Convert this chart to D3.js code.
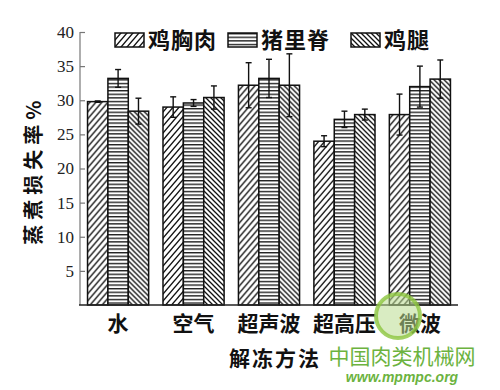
<!DOCTYPE html>
<html lang="zh">
<head>
  <meta charset="utf-8">
  <title>蒸煮损失率</title>
  <style>
    body { margin: 0; background: #fff; }
    svg { display: block; }
    .cjk { font-family: "Noto Sans CJK SC", sans-serif; font-weight: 700; fill: #111; }
  </style>
</head>
<body>
  <div id="chart"></div>

  <script src="https://cdnjs.cloudflare.com/ajax/libs/d3/7.8.5/d3.min.js"></script>
  <script>
    // thawing methods
    var methods = ["水", "空气", "超声波", "超高压", "微波"];
    var seriesNames = ["鸡胸肉", "猪里脊", "鸡腿"];

    // cooking loss (%) per series, one value per method
    var chickenBreast = [29.8, 29.0, 32.2, 24.0, 27.9];
    var porkLoin = [33.2, 29.6, 33.2, 27.2, 32.0];
    var chickenLeg = [28.4, 30.4, 32.2, 27.9, 33.1];

    // error bars (±)
    var chickenBreastErr = [0.1, 1.5, 3.3, 0.8, 3.0];
    var porkLoinErr = [1.3, 0.5, 2.8, 1.2, 3.0];
    var chickenLegErr = [1.9, 1.7, 4.6, 0.8, 2.8];

    var yTicks = [5, 10, 15, 20, 25, 30, 35, 40];

    var values = [chickenBreast, porkLoin, chickenLeg];
    var errors = [chickenBreastErr, porkLoinErr, chickenLegErr];

    var width = 500, height = 390;

    var svg = d3.select("#chart").append("svg")
      .attr("width", width)
      .attr("height", height);

    // hatch patterns
    var defs = svg.append("defs");

    var p1 = defs.append("pattern")
      .attr("id", "hatch0")
      .attr("patternUnits", "userSpaceOnUse")
      .attr("width", 6).attr("height", 7);
    p1.append("rect").attr("width", 6).attr("height", 7).attr("fill", "#fff");
    p1.append("path")
      .attr("d", "M0,7 L6,0 M-2,2.33 L2,-2.33 M4,9.33 L8,4.67")
      .attr("stroke", "#111").attr("stroke-width", 1.4);

    var p2 = defs.append("pattern")
      .attr("id", "hatch1")
      .attr("patternUnits", "userSpaceOnUse")
      .attr("width", 6).attr("height", 3.6);
    p2.append("rect").attr("width", 6).attr("height", 3.6).attr("fill", "#fff");
    p2.append("line")
      .attr("x1", 0).attr("x2", 6).attr("y1", 0.7).attr("y2", 0.7)
      .attr("stroke", "#111").attr("stroke-width", 1.3);

    var p3 = defs.append("pattern")
      .attr("id", "hatch2")
      .attr("patternUnits", "userSpaceOnUse")
      .attr("width", 5).attr("height", 5);
    p3.append("rect").attr("width", 5).attr("height", 5).attr("fill", "#fff");
    p3.append("path")
      .attr("d", "M0,0 L5,5 M-2,3 L2,7 M3,-2 L7,2")
      .attr("stroke", "#111").attr("stroke-width", 1.3);

    // scales
    var x0 = d3.scaleBand()
      .domain(methods)
      .range([80, 458])
      .paddingInner(0.19)
      .paddingOuter(0.1);

    var x1 = d3.scaleBand()
      .domain(d3.range(seriesNames.length))
      .range([0, x0.bandwidth()]);

    var y = d3.scaleLinear()
      .domain([0, 40])
      .range([305, 32]);

    // bars
    var groups = svg.append("g").selectAll("g")
      .data(methods)
      .join("g")
      .attr("transform", function (d) { return "translate(" + x0(d) + ",0)"; });

    function rowsFor(d, i) {
      return values.map(function (s, k) { return { k: k, v: s[i], e: errors[k][i] }; });
    }

    groups.selectAll("rect")
      .data(rowsFor)
      .join("rect")
      .attr("x", function (d) { return x1(d.k); })
      .attr("y", function (d) { return y(d.v); })
      .attr("width", x1.bandwidth())
      .attr("height", function (d) { return y(0) - y(d.v); })
      .attr("fill", function (d) { return "url(#hatch" + d.k + ")"; })
      .attr("stroke", "#111")
      .attr("stroke-width", 1.5);

    // error bars
    var eb = groups.selectAll("g.err")
      .data(rowsFor)
      .join("g")
      .attr("class", "err")
      .attr("stroke", "#111")
      .attr("stroke-width", 1.4);

    function cx(d) { return x1(d.k) + x1.bandwidth() / 2; }

    eb.append("line")
      .attr("x1", cx).attr("x2", cx)
      .attr("y1", function (d) { return y(d.v + d.e); })
      .attr("y2", function (d) { return y(d.v - d.e); });
    eb.append("line")
      .attr("x1", function (d) { return cx(d) - 3; })
      .attr("x2", function (d) { return cx(d) + 3; })
      .attr("y1", function (d) { return y(d.v + d.e); })
      .attr("y2", function (d) { return y(d.v + d.e); });
    eb.append("line")
      .attr("x1", function (d) { return cx(d) - 3; })
      .attr("x2", function (d) { return cx(d) + 3; })
      .attr("y1", function (d) { return y(d.v - d.e); })
      .attr("y2", function (d) { return y(d.v - d.e); });

    // y axis, ticks pointing inward
    var yAxis = svg.append("g")
      .attr("transform", "translate(80,0)")
      .call(d3.axisRight(y).tickValues(yTicks).tickSize(5).tickFormat(""));
    yAxis.select(".domain").attr("d", "M0," + y(40) + "V" + y(0)).attr("stroke", "#777").attr("stroke-width", 1.2);
    yAxis.selectAll(".tick line").attr("stroke", "#777").attr("stroke-width", 1.2);

    svg.append("g").selectAll("text")
      .data(yTicks)
      .join("text")
      .attr("x", 74)
      .attr("y", function (d) { return y(d); })
      .attr("dy", "0.35em")
      .attr("text-anchor", "end")
      .style("font-family", "'Liberation Serif', 'DejaVu Serif', serif")
      .style("font-size", "17px")
      .attr("fill", "#222")
      .text(function (d) { return d; });

    // x axis
    svg.append("line")
      .attr("x1", 79).attr("x2", 458)
      .attr("y1", y(0)).attr("y2", y(0))
      .attr("stroke", "#222").attr("stroke-width", 1.6);

    svg.append("g").selectAll("text")
      .data(methods)
      .join("text")
      .attr("class", "cjk")
      .attr("x", function (d) { return x0(d) + x0.bandwidth() / 2; })
      .attr("y", 331)
      .attr("text-anchor", "middle")
      .style("font-size", "21px")
      .text(function (d) { return d; });

    // axis titles
    svg.append("text")
      .attr("class", "cjk")
      .attr("x", 275).attr("y", 366)
      .attr("text-anchor", "middle")
      .style("font-size", "21px")
      .style("letter-spacing", "2px")
      .text("解冻方法");

    svg.append("text")
      .attr("class", "cjk")
      .attr("transform", "translate(34,170) rotate(-90)")
      .attr("text-anchor", "middle")
      .attr("dy", "0.35em")
      .style("font-size", "20px")
      .style("letter-spacing", "5px")
      .text("蒸煮损失率%");

    // legend
    var legendX = [115, 228, 351];
    var legend = svg.append("g").selectAll("g")
      .data(seriesNames)
      .join("g")
      .attr("transform", function (d, i) { return "translate(" + legendX[i] + ",33)"; });
    legend.append("rect")
      .attr("width", 29).attr("height", 14)
      .attr("fill", function (d, i) { return "url(#hatch" + i + ")"; })
      .attr("stroke", "#111").attr("stroke-width", 1.5);
    legend.append("text")
      .attr("class", "cjk")
      .attr("x", 33).attr("y", 7)
      .attr("dy", "0.36em")
      .style("font-size", "22px")
      .style("letter-spacing", "1px")
      .text(function (d) { return d; });

    // watermark of the source site
    var wm = svg.append("g");
    wm.append("circle")
      .attr("cx", 398).attr("cy", 316).attr("r", 22)
      .attr("fill", "#b9dc8f").attr("fill-opacity", 0.55)
      .attr("stroke", "#8cc63f").attr("stroke-width", 4).attr("stroke-opacity", 0.8);
    wm.append("text")
      .attr("x", 402).attr("y", 364)
      .attr("text-anchor", "middle")
      .style("font-family", "'Noto Sans CJK SC', sans-serif")
      .style("font-size", "21px")
      .attr("fill", "#6cb33f")
      .text("中国肉类机械网");
    wm.append("text")
      .attr("x", 402).attr("y", 382)
      .attr("text-anchor", "middle")
      .style("font-family", "'Liberation Sans', sans-serif")
      .style("font-size", "14px")
      .style("font-style", "italic")
      .style("font-weight", "700")
      .attr("fill", "#6cb33f")
      .text("www.mpmpc.org");
  </script>
</body>
</html>
